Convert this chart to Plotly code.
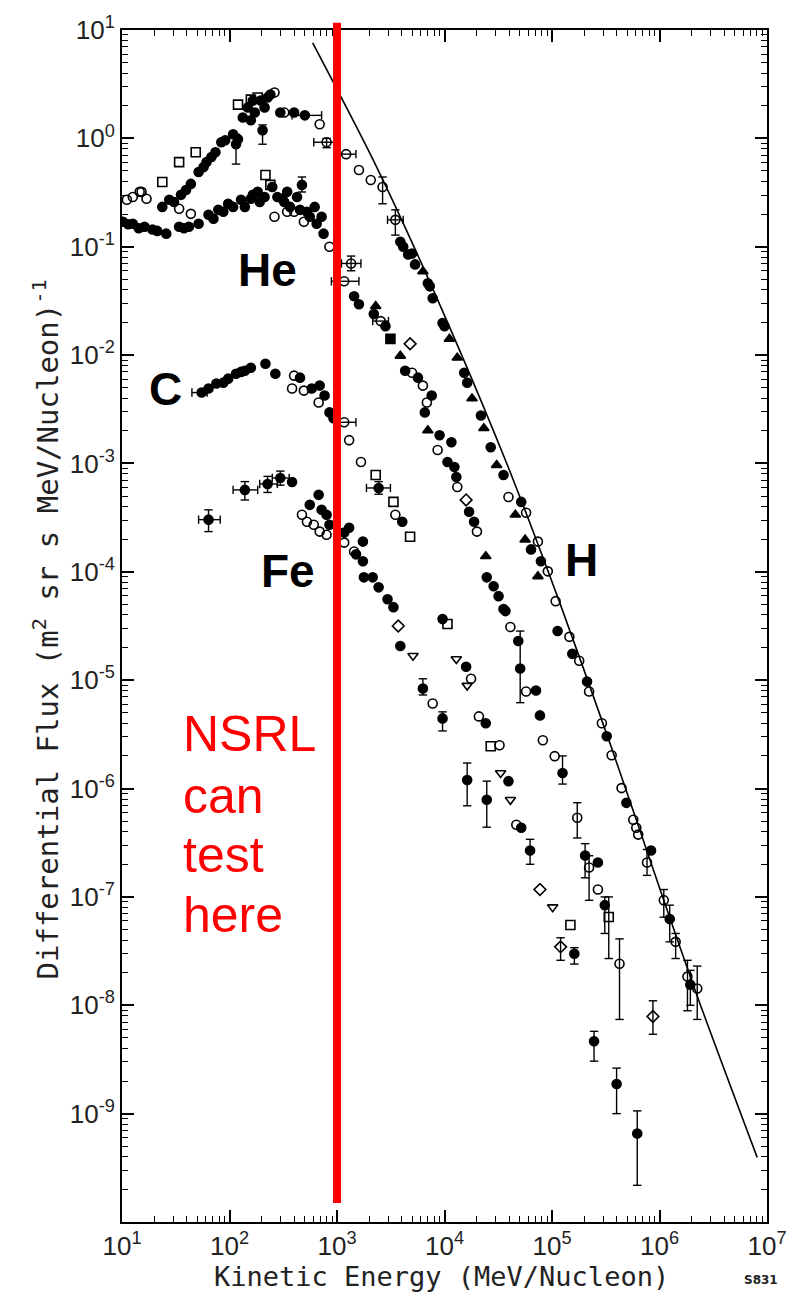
import math
import plotly.graph_objects as go

# ---------------- spectrum data (kinetic energy in MeV/nucleon, flux in (m^2 sr s MeV/nucleon)^-1) ----------------

# Hydrogen
h_filled_e = [23.7, 27.5, 30.5, 35.4, 39.4, 43.7, 51.6, 57.4, 61.2, 67.9, 74.0, 83.9, 91.2, 108, 115, 120, 133, 148,
              158, 165, 172, 195, 203, 212, 226, 240, 297, 399, 502, 3881, 4130, 4592, 4989, 5321, 6998, 7295, 7762,
              9594, 10000, 15240, 16250, 21830, 26920, 35400, 51760, 63830, 78890, 112700, 154500, 211800, 322800,
              492000, 833700, 1.245e6, 1.936e6]
h_filled_f = [0.233, 0.271, 0.259, 0.301, 0.334, 0.380, 0.489, 0.543, 0.604, 0.672, 0.745, 0.921, 0.96, 1.09, 0.883,
              0.98, 1.56, 1.93, 1.47, 2.23, 1.73, 2.23, 1.19, 1.93, 2.38, 2.54, 1.73, 1.73, 1.63, 0.111, 0.100, 0.0848,
              0.0866, 0.0687, 0.0459, 0.0431, 0.0335, 0.0198, 0.0185, 0.00688, 0.00557, 0.00277, 0.00141, 7.82e-4,
              4.42e-4, 1.61e-4, 1.25e-4, 2.84e-5, 1.75e-5, 9.7e-6, 3.04e-6, 7.38e-7, 2.68e-7, 6.25e-8, 1.55e-8]
h_tri_e = [6295, 11120, 13150, 18030, 23230, 30550, 45600, 56230, 73960]
h_tri_f = [0.0592, 0.0141, 0.00944, 0.00397, 0.00211, 9.66e-4, 3.36e-4, 1.98e-4, 9.08e-5]
h_open_e = [11.1, 12.6, 15.2, 16.9, 262, 323, 690, 800, 1216, 1600, 2061, 2655, 3491, 39360, 57410, 73960, 91410,
            108100, 145200, 179100, 221300, 291100, 358900, 443600, 570200, 608100, 633900, 765600, 1.096e6,
            1.413e6, 1.82e6, 2.244e6]
h_open_f = [0.271, 0.288, 0.321, 0.277, 2.65, 1.73, 1.35, 0.921, 0.715, 0.510, 0.413, 0.356, 0.177, 4.91e-4,
            3.51e-4, 1.90e-4, 1.01e-4, 5.36e-5, 2.51e-5, 1.51e-5, 7.85e-6, 4.0e-6, 2.03e-6, 1.01e-6, 5.16e-7,
            4.35e-7, 3.76e-7, 2.08e-7, 9.33e-8, 3.85e-8, 1.84e-8, 1.43e-8]
h_opensq_e = [23.7, 34.0, 48.5, 120, 158, 183]
h_opensq_f = [0.396, 0.604, 0.745, 2.05, 2.28, 2.38]
h_vbar_e = [115, 203, 800, 2655, 3491, 765600, 1.096e6, 1.245e6, 1.413e6, 1.82e6, 1.936e6, 2.244e6]
h_vbar_lo = [0.579, 0.883, 0.82, 0.249, 0.128, 1.58e-7, 6.5e-8, 3.85e-8, 2.7e-8, 8.9e-9, 1.0e-8, 7.4e-9]
h_vbar_hi = [1.09, 1.33, 1.0, 0.44, 0.219, 2.74e-7, 1.17e-7, 8.39e-8, 4.6e-8, 2.6e-8, 2.1e-8, 2.3e-8]
h_hbar_f = [0.921, 1.63, 0.715, 0.177]
h_hbar_lo = [608, 382, 940, 2951]
h_hbar_hi = [982, 719, 1500, 4130]

# Galactic spectrum curve drawn through the hydrogen data
h_curve_e = [594, 2291, 7603, 36900, 117500, 358900, 1.096e6, 2.29e6, 8.1e6]
h_curve_f = [7.6, 0.567, 0.0431, 1.07e-3, 5.25e-5, 2.36e-6, 9.33e-8, 1.15e-8, 3.95e-10]

# Helium
he_filled_e = [10.2, 11.4, 12.6, 14.3, 16.2, 19.2, 21.3, 25.8, 34.0, 37.7, 41.9, 51.6, 63.8, 70.9, 78.7, 87.6, 97.2,
               108, 128, 139, 158, 165, 183, 191, 212, 250, 279, 310, 323, 344, 366, 425, 453, 472, 525, 558, 620,
               647, 719, 750, 1442, 1600, 2198, 2825, 4305, 5662, 7603, 6561, 9000, 11590, 10660, 12360, 12880,
               16940, 18840, 24720, 28640, 31840, 35400, 36900, 48530, 50580, 70960, 77270, 125300, 203200, 267300,
               309700]
he_filled_f = [0.170, 0.161, 0.163, 0.148, 0.153, 0.144, 0.140, 0.132, 0.153, 0.148, 0.153, 0.163, 0.197, 0.181,
               0.219, 0.210, 0.249, 0.233, 0.271, 0.233, 0.277, 0.301, 0.321, 0.259, 0.288, 0.356, 0.288, 0.277,
               0.259, 0.321, 0.233, 0.288, 0.219, 0.372, 0.210, 0.189, 0.233, 0.163, 0.189, 0.132, 0.0349, 0.0295,
               0.0239, 0.0185, 0.00718, 0.00619, 0.00424, 0.00296, 0.00182, 0.00157, 0.00103, 9.26e-4, 7.50e-4,
               3.58e-4, 2.90e-4, 8.89e-5, 7.35e-5, 5.96e-5, 4.53e-5, 4.34e-5, 2.30e-5, 1.28e-5, 8.02e-6, 4.73e-6,
               1.39e-6, 2.41e-7, 2.08e-7, 8.39e-8]
he_open_e = [14.6, 34.0, 43.7, 262, 344, 399, 492, 851, 1167, 1352, 2547, 4989, 6295, 6855, 8630, 13150, 20040,
             41020, 57410, 82220, 105900, 171800, 221300, 267300, 424600]
he_open_f = [0.321, 0.224, 0.201, 0.189, 0.210, 0.210, 0.170, 0.100, 0.0480, 0.0701, 0.0206, 0.00688, 0.00523,
             0.00365, 0.00133, 6.07e-4, 2.35e-4, 3.10e-5, 7.85e-6, 2.79e-6, 1.99e-6, 5.38e-7, 1.87e-7, 1.17e-7,
             2.42e-8]
he_opensq_e = [216, 240, 337300]
he_opensq_f = [0.459, 0.372, 6.52e-8]
he_tri_e = [2291, 3881, 6998, 24210]
he_tri_f = [0.0283, 0.00984, 0.00202, 1.39e-4]
he_sq_e = [3141]
he_sq_f = [0.0141]
he_diam_e = [4786, 15890, 869000]
he_diam_f = [0.0127, 4.61e-4, 7.89e-9]
he_vbar_e = [472, 1352, 50580, 125300, 171800, 203200, 221300, 309700, 337300, 424600, 869000]
he_vbar_lo = [0.32, 0.060, 6.2e-6, 1.1e-6, 3.5e-7, 1.5e-7, 9.3e-8, 4.6e-8, 2.7e-8, 7.4e-9, 5.4e-9]
he_vbar_hi = [0.44, 0.082, 2.84e-5, 2.0e-6, 7.4e-7, 3.1e-7, 2.4e-7, 1.0e-7, 1.0e-7, 4.1e-8, 1.1e-8]
he_hbar_f = [0.0701, 0.0480, 0.0206]
he_hbar_lo = [1100, 887, 2148]
he_hbar_hi = [1670, 1600, 3013]

# Carbon
c_filled_e = [55.1, 63.8, 75.5, 87.6, 97.2, 115, 128, 139, 158, 216, 267, 453, 582, 690, 766, 851, 927, 2438, 4046,
              9594, 15890, 24210, 39360, 51760, 62520, 161400, 246000, 399000, 620900]
c_filled_f = [0.00451, 0.00491, 0.00546, 0.00557, 0.00606, 0.00673, 0.00700, 0.00718, 0.00764, 0.00832, 0.00673,
              0.00619, 0.00491, 0.00523, 0.00424, 0.00296, 0.00261, 5.94e-4, 2.90e-4, 3.66e-5, 1.33e-5, 4.00e-6,
              1.17e-6, 4.35e-7, 2.68e-7, 2.99e-8, 4.66e-9, 1.88e-9, 6.55e-10]
c_open_e = [382, 399, 492, 675, 1167, 1297, 1671, 3491, 17660, 20890, 32510, 46560]
c_open_f = [0.00491, 0.00646, 0.00470, 0.00365, 0.00240, 0.00164, 0.00103, 3.36e-4, 1.03e-5, 4.63e-6, 2.51e-6,
            4.64e-7]
c_opensq_e = [2291, 3350, 4786, 10660, 26920, 148300]
c_opensq_f = [7.82e-4, 4.42e-4, 2.11e-4, 3.30e-5, 2.46e-6, 5.51e-8]
c_tridown_e = [12880, 16250, 33270, 41020, 101400]
c_tridown_f = [1.57e-5, 8.91e-6, 1.39e-6, 7.87e-7, 8.05e-8]
c_diam_e = [77270, 120200]
c_diam_f = [1.17e-7, 3.46e-8]
c_vbar_e = [2438, 62520, 120200, 161400, 246000, 399000, 620900]
c_vbar_lo = [5.2e-4, 2.0e-7, 2.6e-8, 2.4e-8, 3.05e-9, 1.0e-9, 2.18e-10]
c_vbar_hi = [6.8e-4, 3.4e-7, 4.2e-8, 3.4e-8, 5.75e-9, 2.63e-9, 1.06e-9]
c_hbar_f = [0.00451, 5.94e-4, 0.00240]
c_hbar_lo = [44.7, 1880, 970]
c_hbar_hi = [62, 3141, 1500]

# Iron
fe_filled_e = [63.8, 139, 226, 297, 382, 558, 675, 719, 800, 851, 1167, 1297, 1503, 1742, 1742, 1778, 2148, 2438,
               2951, 3350, 3881, 6295, 9594, 16250, 24720]
fe_filled_f = [3.03e-4, 5.70e-4, 6.47e-4, 7.34e-4, 6.75e-4, 4.15e-4, 5.13e-4, 3.73e-4, 3.36e-4, 2.72e-4, 2.30e-4,
               2.55e-4, 1.45e-4, 1.90e-4, 1.25e-4, 8.89e-5, 8.89e-5, 7.19e-5, 5.59e-5, 4.72e-5, 2.07e-5, 8.36e-6,
               4.44e-6, 1.20e-6, 7.87e-7]
fe_open_e = [472, 525, 608, 690, 800, 1167, 1442, 7762]
fe_open_f = [3.36e-4, 2.90e-4, 2.72e-4, 2.35e-4, 2.20e-4, 1.86e-4, 1.54e-4, 6.10e-6]
fe_triopen_e = [5093]
fe_triopen_f = [1.68e-5]
fe_diam_e = [3715]
fe_diam_f = [3.16e-5]
fe_vbar_e = [63.8, 139, 226, 297, 6295, 9594, 16250, 24720]
fe_vbar_lo = [2.35e-4, 4.6e-4, 5.4e-4, 6.3e-4, 7.3e-6, 3.4e-6, 6.93e-7, 4.4e-7]
fe_vbar_hi = [3.73e-4, 6.8e-4, 7.6e-4, 8.5e-4, 1.03e-5, 5.1e-6, 1.72e-6, 1.17e-6]
fe_hbar_f = [3.03e-4, 5.70e-4, 6.47e-4, 7.34e-4]
fe_hbar_lo = [51.6, 108, 191, 250]
fe_hbar_hi = [82.0, 183, 279, 359]

# Accelerator limit and axis decades
NSRL_LIMIT_MEV = 1000
x_decades = list(range(1, 8))
y_decades = list(range(-10, 2))
X_RANGE = [1, 7]
Y_RANGE = [-10, 1]

# ---------------- figure ----------------
fig = go.Figure()
INK = "black"


def add_points(e, f, symbol, size=9, lw=1.6):
    fig.add_trace(go.Scatter(
        x=e, y=f, mode="markers", hoverinfo="skip", showlegend=False,
        marker=dict(symbol=symbol, size=size, color=INK, line=dict(color=INK, width=lw)),
    ))


def add_vbars(e, lo, hi):
    xs, ys = [], []
    for x, a, b in zip(e, lo, hi):
        xs += [x, x, None]
        ys += [a, b, None]
    fig.add_trace(go.Scatter(
        x=xs, y=ys, mode="lines+markers", hoverinfo="skip", showlegend=False,
        line=dict(color=INK, width=1.4),
        marker=dict(symbol="line-ew", size=6, color=INK, line=dict(color=INK, width=1.4)),
    ))


def add_hbars(f, lo, hi):
    xs, ys = [], []
    for y, a, b in zip(f, lo, hi):
        xs += [a, b, None]
        ys += [y, y, None]
    fig.add_trace(go.Scatter(
        x=xs, y=ys, mode="lines+markers", hoverinfo="skip", showlegend=False,
        line=dict(color=INK, width=1.4),
        marker=dict(symbol="line-ns", size=6, color=INK, line=dict(color=INK, width=1.4)),
    ))


# spectrum curve
fig.add_trace(go.Scatter(x=h_curve_e, y=h_curve_f, mode="lines", hoverinfo="skip", showlegend=False,
                         line=dict(color=INK, width=1.6, shape="spline", smoothing=0.8)))

# error bars
for args in [(h_vbar_e, h_vbar_lo, h_vbar_hi), (he_vbar_e, he_vbar_lo, he_vbar_hi),
             (c_vbar_e, c_vbar_lo, c_vbar_hi), (fe_vbar_e, fe_vbar_lo, fe_vbar_hi)]:
    add_vbars(*args)
for args in [(h_hbar_f, h_hbar_lo, h_hbar_hi), (he_hbar_f, he_hbar_lo, he_hbar_hi),
             (c_hbar_f, c_hbar_lo, c_hbar_hi), (fe_hbar_f, fe_hbar_lo, fe_hbar_hi)]:
    add_hbars(*args)

# data points
add_points(h_filled_e, h_filled_f, "circle")
add_points(h_tri_e, h_tri_f, "triangle-up")
add_points(h_open_e, h_open_f, "circle-open")
add_points(h_opensq_e, h_opensq_f, "square-open")

add_points(he_filled_e, he_filled_f, "circle")
add_points(he_open_e, he_open_f, "circle-open")
add_points(he_opensq_e, he_opensq_f, "square-open")
add_points(he_tri_e, he_tri_f, "triangle-up")
add_points(he_sq_e, he_sq_f, "square")
add_points(he_diam_e, he_diam_f, "diamond-open")

add_points(c_filled_e, c_filled_f, "circle")
add_points(c_open_e, c_open_f, "circle-open")
add_points(c_opensq_e, c_opensq_f, "square-open")
add_points(c_tridown_e, c_tridown_f, "triangle-down-open")
add_points(c_diam_e, c_diam_f, "diamond-open")

add_points(fe_filled_e, fe_filled_f, "circle")
add_points(fe_open_e, fe_open_f, "circle-open")
add_points(fe_triopen_e, fe_triopen_f, "triangle-down-open")
add_points(fe_diam_e, fe_diam_f, "diamond-open")

# NSRL energy limit (red vertical bar, runs slightly past the top frame)
nsrl_x = (math.log10(NSRL_LIMIT_MEV) - X_RANGE[0]) / (X_RANGE[1] - X_RANGE[0])
fig.add_shape(type="line", xref="paper", yref="paper", x0=nsrl_x, x1=nsrl_x, y0=0.016, y1=1.006,
              line=dict(color="#FF0000", width=8), layer="above")

LABEL_FONT = dict(family="Liberation Sans", size=46, color="black")
annotations = [
    dict(text="<b>He</b>", x=0.2256, y=0.799),
    dict(text="<b>C</b>", x=0.0671, y=0.699),
    dict(text="<b>Fe</b>", x=0.2576, y=0.546),
    dict(text="<b>H</b>", x=0.712, y=0.555),
]
for a in annotations:
    fig.add_annotation(xref="paper", yref="paper", showarrow=False, xanchor="center", yanchor="middle",
                       font=LABEL_FONT, **a)

RED_FONT = dict(family="Liberation Sans", size=50, color="#FF0000")
for txt, yy in [("NSRL", 0.409), ("can", 0.3575), ("test", 0.3075), ("here", 0.2575)]:
    fig.add_annotation(text=txt, xref="paper", yref="paper", x=0.0915, y=yy, showarrow=False,
                       xanchor="left", yanchor="middle", font=RED_FONT)

TITLE_FONT = dict(family="DejaVu Sans Mono", size=27, color="#222")
fig.add_annotation(text="Differential Flux (m<sup>2</sup> sr s MeV/Nucleon)<sup>-1</sup>",
                   xref="paper", yref="paper", x=-0.118, y=0.497, textangle=-90, showarrow=False,
                   xanchor="center", yanchor="middle", font=dict(TITLE_FONT, size=29))
fig.add_annotation(text="Kinetic Energy (MeV/Nucleon)", xref="paper", yref="paper", x=0.495, y=-0.0605,
                   showarrow=False, xanchor="center", yanchor="bottom", font=TITLE_FONT)
fig.add_annotation(text="<b>S831</b>", xref="paper", yref="paper", x=0.99, y=-0.049, showarrow=False,
                   xanchor="center", yanchor="middle", font=dict(family="DejaVu Sans", size=12, color="#222"))

tick_font = dict(family="Liberation Sans", size=26, color="#222")
axis_common = dict(
    type="log", ticks="inside", ticklen=12, tickwidth=1.5, tickcolor=INK, mirror="allticks",
    showline=True, linewidth=2, linecolor=INK, showgrid=False, zeroline=False, tickfont=tick_font,
)

fig.update_xaxes(
    range=X_RANGE,
    tickvals=[10 ** k for k in x_decades],
    ticktext=[f"10<sup>{k}</sup>" for k in x_decades],
    minor=dict(tickvals=[m * 10 ** k for k in x_decades[:-1] for m in range(2, 10)],
               ticks="inside", ticklen=6, tickwidth=1.2, tickcolor=INK, showgrid=False),
    **axis_common,
)
fig.update_yaxes(
    range=Y_RANGE,
    tickvals=[10.0 ** k for k in y_decades],
    ticktext=["" if k == y_decades[0] else f"10<sup>{k}</sup>" for k in y_decades],
    minor=dict(tickvals=[m * 10.0 ** k for k in y_decades[:-1] for m in range(2, 10)],
               ticks="inside", ticklen=6, tickwidth=1.2, tickcolor=INK, showgrid=False),
    **axis_common,
)

fig.update_layout(
    width=799, height=1294,
    margin=dict(l=122, r=21, t=22, b=72),
    paper_bgcolor="white", plot_bgcolor="white",
    showlegend=False,
)

fig.write_html("out.html")
